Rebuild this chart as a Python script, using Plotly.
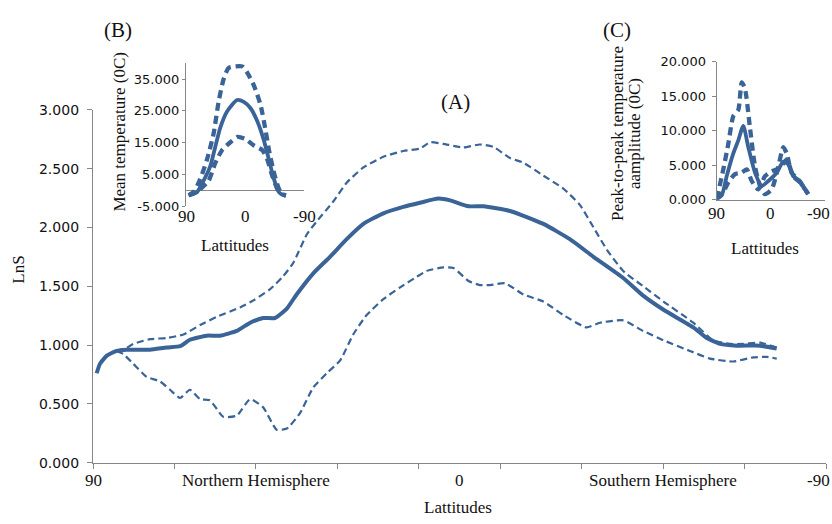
import plotly.graph_objects as go

W, H = 832, 524
COLOR = "#3A6397"
AXC = "#868686"
SERIF = "Liberation Serif, Times New Roman, serif"
SANS = "DejaVu Sans, Verdana, sans-serif"

# ---------------- Main chart (A): LnS vs latitude ----------------
mean_lat = [89.1, 88.3, 86.6, 84.2, 81.7, 76.0, 71.9, 68.6, 66.2, 62.1, 58.8, 54.7, 51.4, 48.2,
            45.3, 42.4, 40.0, 35.9, 31.8, 27.7, 23.6, 18.7, 13.8, 9.7, 5.2, 2.3, -2.2, -5.9,
            -12.4, -20.6, -27.1, -32.9, -40.2, -45.1, -50.1, -57.4, -60.7, -64.0, -68.1,
            -73.8, -77.9]
mean_lns = [0.76, 0.84, 0.91, 0.95, 0.96, 0.96, 0.98, 0.99, 1.045, 1.08, 1.08, 1.12, 1.19, 1.23,
            1.23, 1.31, 1.43, 1.61, 1.75, 1.90, 2.03, 2.12, 2.175, 2.21, 2.245, 2.23, 2.18, 2.18,
            2.14, 2.03, 1.90, 1.75, 1.57, 1.42, 1.30, 1.15, 1.06, 1.01, 0.995,
            0.995, 0.97]

upper_lat = [84.2, 82.0, 80.1, 76.0, 71.9, 67.8, 63.7, 59.6, 53.9, 50.6, 46.5, 43.3, 40.8, 37.5,
             35.1, 31.0, 27.7, 23.6, 18.7, 13.8, 9.7, 7.2, 4.0, -0.9, -5.0, -8.3, -12.4, -15.7,
             -20.6, -25.5, -29.6, -32.9, -36.2, -40.2, -45.1, -50.1, -57.4, -62.3, -66.4,
             -69.7, -73.8, -77.9]
upper_lns = [0.95, 0.97, 1.01, 1.05, 1.06, 1.09, 1.17, 1.24, 1.32, 1.38, 1.475, 1.585, 1.70, 1.94,
             2.05, 2.22, 2.38, 2.51, 2.60, 2.65, 2.67, 2.725, 2.71, 2.68, 2.705, 2.685, 2.59, 2.55,
             2.44, 2.33, 2.19, 2.00, 1.81, 1.63, 1.50, 1.37, 1.19, 1.04, 1.01,
             1.01, 1.02, 0.98]

lower_lat = [84.2, 82.6, 80.1, 76.8, 73.5, 71.1, 68.6, 66.2, 63.7, 61.3, 58.0, 54.7, 51.4, 48.2,
             44.9, 42.4, 39.2, 35.9, 32.6, 29.3, 26.1, 22.8, 18.7, 14.6, 10.5, 8.1, 4.0, 1.5,
             -2.2, -5.0, -7.5, -11.2, -15.7, -20.6, -25.5, -31.2, -34.5, -40.2, -45.1, -50.1,
             -56.6, -61.5, -67.2, -72.1, -75.4, -77.9]
lower_lns = [0.95, 0.925, 0.84, 0.73, 0.69, 0.62, 0.55, 0.62, 0.54, 0.53, 0.39, 0.40, 0.54, 0.47,
             0.28, 0.29, 0.42, 0.64, 0.76, 0.87, 1.09, 1.255, 1.39, 1.49, 1.58, 1.63, 1.66, 1.655,
             1.545, 1.51, 1.51, 1.525, 1.43, 1.37, 1.255, 1.15, 1.19, 1.21, 1.12, 1.04,
             0.95, 0.885, 0.86, 0.895, 0.90, 0.885]

main_tick_lats = [90, 70, 50, 30, 10, -10, -30, -50, -70, -90]
main_label_lats = [90, 50, 0, -50, -90]
main_label_text = ["90", "Northern Hemisphere", "0", "Southern Hemisphere", "-90"]
main_y_ticks = [0, 0.5, 1.0, 1.5, 2.0, 2.5, 3.0]

# ---------------- Inset (B): mean temperature ----------------
b_mean_lat = [86.0, 80.0, 73.5, 63.4, 53.1, 45.4, 37.7, 27.4, 12.0, 1.8, -8.5, -18.8, -28.9,
              -36.6, -44.3, -52.0, -58.0, -62.3]
b_mean_val = [-1.6, -1.3, -0.7, 2.9, 7.5, 13.6, 19.7, 24.8, 28.4, 27.8, 25.8, 21.7, 15.6,
              9.5, 3.4, -0.7, -1.5, -1.7]
b_up_lat = [86.0, 78.0, 68.5, 58.2, 48.0, 40.3, 32.6, 24.9, 14.6, 4.3, -3.4, -13.5, -23.8,
            -31.5, -36.6, -44.3, -52.0, -58.0, -62.3]
b_up_val = [-1.6, -0.5, 3.4, 9.5, 17.7, 27.8, 35.0, 38.5, 39.0, 39.0, 37.0, 33.0, 26.8,
            18.7, 12.6, 5.4, 0.3, -1.3, -1.7]
b_lo_lat = [86.0, 78.0, 68.5, 55.7, 45.4, 35.1, 22.3, 11.0, -0.8, -13.5, -26.5, -34.2, -41.8,
            -49.5, -56.0, -62.3]
b_lo_val = [-1.6, -1.0, 0.3, 2.9, 8.5, 12.6, 15.1, 16.8, 16.1, 14.1, 12.6, 9.5, 4.4,
            0.3, -1.2, -1.7]
b_y_ticks = [-5, 5, 15, 25, 35]
b_y_text = ["-5.000", "5.000", "15.000", "25.000", "35.000"]
inset_x_lats = [90, 0, -90]
inset_x_text = ["90", "0", "-90"]

# ---------------- Inset (C): peak-to-peak amplitude ----------------
c_mean_lat = [90.0, 81.7, 73.4, 62.4, 54.1, 45.8, 37.5, 26.3, 15.2, 4.2, -9.7, -20.7, -29.0,
              -37.3, -48.4, -56.8, -62.2]
c_mean_val = [0.1, 0.6, 3.4, 6.7, 8.6, 10.7, 7.6, 3.9, 2.0, 2.7, 3.9, 5.5, 5.1,
              3.4, 2.7, 1.5, 0.8]
c_up_lat = [90.0, 79.0, 70.7, 62.4, 54.1, 48.4, 43.0, 34.7, 26.3, 18.0, 9.7, -1.4, -12.4,
            -20.7, -26.3, -34.7, -45.6, -56.8, -62.2]
c_up_val = [0.1, 4.4, 8.1, 12.1, 13.0, 17.0, 16.1, 10.4, 4.8, 2.0, 0.8, 1.5, 4.8,
            7.6, 6.7, 3.9, 2.9, 1.5, 0.8]
c_lo_lat = [90.0, 79.0, 70.7, 59.6, 48.4, 40.1, 31.8, 20.9, 9.7, -1.4, -15.3, -26.3, -37.3,
            -48.4, -56.8, -62.2]
c_lo_val = [0.1, 1.1, 2.5, 3.7, 3.9, 4.4, 2.7, 1.5, 3.4, 4.1, 4.6, 5.8, 3.4,
            2.5, 1.5, 0.8]
c_y_ticks = [0, 5, 10, 15, 20]
c_y_text = ["0.000", "5.000", "10.000", "15.000", "20.000"]


def fx(px):
    return px / W


def fy(py):
    return (H - py) / H


fig = go.Figure()

main_dash = dict(color=COLOR, width=2.2, dash="7px,4px", shape="spline", smoothing=0.5)
fig.add_trace(go.Scatter(x=upper_lat, y=upper_lns, mode="lines", line=main_dash, xaxis="x", yaxis="y"))
fig.add_trace(go.Scatter(x=lower_lat, y=lower_lns, mode="lines", line=main_dash, xaxis="x", yaxis="y"))
fig.add_trace(go.Scatter(x=mean_lat, y=mean_lns, mode="lines",
                         line=dict(color=COLOR, width=4, shape="spline", smoothing=0.5),
                         xaxis="x", yaxis="y"))

inset_dash = dict(color=COLOR, width=4.3, dash="8px,5px", shape="spline", smoothing=0.6)
inset_solid = dict(color=COLOR, width=3.8, shape="spline", smoothing=0.6)
for lat, val, ln in [(b_up_lat, b_up_val, inset_dash), (b_lo_lat, b_lo_val, inset_dash),
                     (b_mean_lat, b_mean_val, inset_solid)]:
    fig.add_trace(go.Scatter(x=lat, y=val, mode="lines", line=ln, xaxis="x2", yaxis="y2"))
for lat, val, ln in [(c_up_lat, c_up_val, inset_dash), (c_lo_lat, c_lo_val, inset_dash),
                     (c_mean_lat, c_mean_val, inset_solid)]:
    fig.add_trace(go.Scatter(x=lat, y=val, mode="lines", line=ln, xaxis="x3", yaxis="y3"))

axis_common = dict(showgrid=False, zeroline=False, showline=True, linecolor=AXC, linewidth=1.3,
                   tickcolor=AXC, ticks="outside")

fig.update_layout(
    width=W, height=H,
    margin=dict(l=0, r=0, t=0, b=0),
    paper_bgcolor="white", plot_bgcolor="rgba(0,0,0,0)",
    showlegend=False,
    xaxis=dict(domain=[fx(93), fx(826)], range=[90, -90], tickvals=main_tick_lats,
               showticklabels=False, ticklen=5, anchor="y", **axis_common),
    yaxis=dict(domain=[fy(469), fy(105)], range=[0, 3.0], tickvals=main_y_ticks, tickformat=".3f",
               ticklen=5, ticklabelstandoff=5, tickfont=dict(family=SANS, size=14, color="#111"),
               anchor="x", **axis_common),
    xaxis2=dict(domain=[fx(186), fx(304)], range=[90, -90], showgrid=False, zeroline=False,
                showline=False, showticklabels=False, ticks="", anchor="y2"),
    yaxis2=dict(domain=[fy(204.3), fy(56.9)], range=[-5, 40], tickvals=b_y_ticks, ticktext=b_y_text,
                ticklen=3, tickfont=dict(family=SANS, size=13, color="#111"), anchor="x2",
                showgrid=False, showline=True, linecolor=AXC, linewidth=1.3, tickcolor=AXC,
                ticks="outside", zeroline=True, zerolinecolor=AXC, zerolinewidth=1.3),
    xaxis3=dict(domain=[fx(716.7), fx(825)], range=[90, -90], showgrid=False, zeroline=False,
                showline=True, linecolor=AXC, linewidth=1.3, showticklabels=False, ticks="",
                anchor="y3"),
    yaxis3=dict(domain=[fy(197.7), fy(55.3)], range=[0, 20], tickvals=c_y_ticks, ticktext=c_y_text,
                ticklen=4, ticklabelstandoff=3, tickfont=dict(family=SANS, size=13, color="#111"),
                anchor="x3", **axis_common),
)

ann = []
# main x labels (the last one is kept inside the page's right edge)
for lat, txt in zip(main_label_lats, main_label_text):
    edge = lat == -90
    ann.append(dict(x=1.0 if edge else lat, y=fy(487.5), xref="paper" if edge else "x", yref="paper",
                    text=txt, showarrow=False, xanchor="right" if edge else "center",
                    yanchor="middle", font=dict(family=SERIF, size=17, color="#111")))
# inset x labels
for lat, txt in zip(inset_x_lats, inset_x_text):
    ann.append(dict(x=lat, y=fy(215), xref="x2", yref="paper", text=txt, showarrow=False,
                    xanchor="center", yanchor="middle", font=dict(family=SERIF, size=17, color="#111")))
    edge = lat == -90
    ann.append(dict(x=1.0 if edge else lat, y=fy(212), xref="paper" if edge else "x3", yref="paper",
                    text=txt, showarrow=False, xanchor="right" if edge else "center",
                    yanchor="middle", font=dict(family=SERIF, size=17, color="#111")))


def txt_ann(px, py, text, size=17, angle=0):
    return dict(x=fx(px), y=fy(py), xref="paper", yref="paper", text=text, showarrow=False,
                xanchor="center", yanchor="middle", textangle=angle,
                font=dict(family=SERIF, size=size, color="#111"))


ann += [
    txt_ann(458, 515, "Lattitudes"),
    txt_ann(19, 270, "LnS", angle=-90),
    txt_ann(455, 97, "(A)", size=21),
    txt_ann(118, 23, "(B)", size=21),
    txt_ann(617, 23, "(C)", size=21),
    txt_ann(235, 245, "Lattitudes"),
    txt_ann(765, 248, "Lattitudes"),
    txt_ann(120, 127.5, "Mean temperature (0C)", angle=-90),
    txt_ann(617, 130, "Peak-to-peak temperature", angle=-90),
    txt_ann(634, 130, "aamplitude (0C)", angle=-90),
]
fig.update_layout(annotations=ann)

fig.write_html("out.html")
